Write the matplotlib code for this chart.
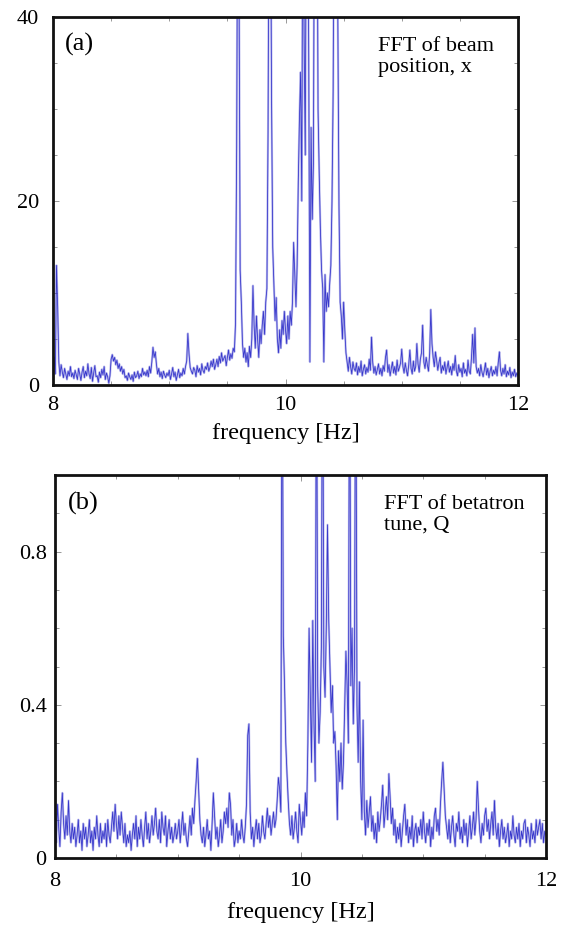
import numpy as np
import matplotlib
matplotlib.use("Agg")
import matplotlib.pyplot as plt
from matplotlib.ticker import MultipleLocator

# frequency grid: 8.00 .. 12.00 Hz, 0.01 Hz step
freq = [round(8.0 + 0.01 * i, 2) for i in range(401)]

# (a) FFT of beam position x (>40 are clipped)
fft_x = [
    1.5, 3.0, 1.2, 13.0, 8.5, 2.5, 1.0, 2.2, 1.4, 0.8, 1.8, 1.2, 0.6, 1.5, 1.0, 2.0, 0.9, 1.3, 0.7, 1.6,
    1.1, 0.6, 1.8, 1.2, 0.5, 1.4, 2.0, 0.8, 1.5, 1.0, 2.3, 1.2, 0.7, 1.9, 0.4, 1.3, 2.1, 0.9, 1.0, 0.3,
    1.4, 0.8, 1.7, 1.1, 2.0, 0.6, 1.3, 0.9, 0.2, 1.0, 2.8, 3.3, 2.6, 3.0, 2.2, 2.7, 1.8, 2.3, 1.5, 2.0,
    1.2, 1.7, 0.8, 1.0, 0.5, 1.3, 0.9, 0.6, 1.1, 0.4, 1.4, 0.8, 1.0, 1.5, 0.7, 1.2, 0.9, 1.8, 1.1, 1.4,
    1.0, 1.6, 0.9, 2.0, 1.3, 2.5, 4.1, 3.0, 3.6, 2.2, 1.2, 1.8, 0.9, 1.4, 0.7, 1.5, 1.1, 0.8, 1.3, 1.0,
    1.6, 0.6, 1.2, 1.9, 0.9, 1.4, 0.5, 1.1, 1.7, 0.8, 1.3, 1.0, 1.8, 1.2, 2.0, 2.6, 5.6, 3.4, 1.9, 1.5,
    1.2, 1.9, 1.6, 0.9, 2.1, 1.4, 1.8, 1.1, 2.3, 1.6, 1.3, 2.0, 1.7, 2.4, 1.5, 1.9, 2.6, 2.0, 2.8, 1.7,
    2.2, 2.8, 2.0, 3.1, 2.4, 3.5, 2.6, 2.9, 3.2, 2.1, 3.0, 3.8, 2.7, 3.4, 2.9, 4.0, 3.6, 6.7, 26.0, 60.0,
    45.0, 12.5, 9.0, 4.5, 3.0, 4.0, 2.5, 3.5, 2.0, 4.2, 3.0, 5.0, 10.8, 6.5, 4.0, 7.5, 5.0, 3.0, 6.0, 4.5,
    6.5, 8.0, 5.5, 9.0, 10.5, 27.5, 60.0, 60.0, 31.0, 15.0, 11.0, 7.0, 9.5, 5.0, 3.5, 6.0, 4.0, 7.0, 5.5, 8.0,
    6.0, 4.5, 7.5, 5.0, 8.0, 6.5, 9.0, 15.5, 12.0, 8.5, 13.0, 22.0, 29.0, 34.0, 20.0, 60.0, 38.0, 25.0, 60.0, 60.0,
    35.0, 2.5, 28.0, 18.0, 24.0, 60.0, 60.0, 60.0, 30.0, 23.0, 17.0, 12.5, 10.5, 2.5, 12.0, 8.0, 10.0, 8.5, 11.0, 13.0,
    20.0, 32.0, 60.0, 60.0, 60.0, 40.0, 19.5, 9.0, 7.5, 5.0, 9.0, 6.0, 3.5, 2.5, 1.5, 3.0, 2.0, 1.2, 2.5, 1.8,
    1.5, 2.4, 1.1, 2.0, 1.4, 2.6, 1.0, 1.7, 2.2, 1.2, 1.9, 1.4, 2.8, 1.6, 5.2, 2.5, 1.3, 2.0, 1.1, 1.7,
    2.3, 1.2, 1.8, 1.0, 2.1, 1.5, 3.0, 3.8, 1.4, 2.2, 1.0, 1.8, 2.5, 1.3, 2.0, 1.1, 2.7, 1.5, 1.9, 2.4,
    3.9, 2.0, 1.3, 2.4, 1.6, 1.0, 2.2, 3.8, 1.8, 1.2, 2.6, 1.5, 2.0, 4.5, 2.3, 1.4, 2.8, 3.5, 6.5, 2.5,
    1.8, 3.0, 2.2, 1.5, 3.4, 8.2, 4.5, 3.0, 2.0, 3.6, 2.7, 1.6, 2.4, 3.0, 1.3, 2.1, 1.6, 2.5, 1.2, 1.9,
    2.6, 1.4, 2.0, 1.1, 2.3, 1.6, 3.2, 1.5, 1.0, 2.2, 1.4, 1.8, 0.9, 2.4, 1.3, 1.7, 1.0, 2.7, 1.5, 1.2,
    3.0, 5.5, 2.4, 6.2, 2.0, 1.3, 1.8, 1.0, 2.2, 1.4, 0.9, 1.6, 2.4, 1.1, 1.8, 0.8, 1.5, 2.0, 1.0, 1.6,
    1.2, 2.0, 1.0, 2.4, 3.6, 1.6, 1.0, 1.8, 1.2, 2.2, 0.9, 1.5, 1.1, 1.9, 0.8, 1.4, 1.0, 1.7, 0.9, 1.3,
    1.0,
]

# (b) FFT of betatron tune Q (values >1 are clipped)
fft_q = [
    0.10, 0.04, 0.14, 0.08, 0.03, 0.12, 0.17, 0.09, 0.05, 0.11, 0.06, 0.15, 0.07, 0.04, 0.09, 0.05, 0.08, 0.03, 0.06, 0.10,
    0.04, 0.07, 0.02, 0.09, 0.05, 0.08, 0.03, 0.06, 0.10, 0.04, 0.07, 0.02, 0.08, 0.05, 0.11, 0.06, 0.03, 0.09, 0.04, 0.07,
    0.05, 0.09, 0.03, 0.10, 0.06, 0.04, 0.08, 0.12, 0.07, 0.14, 0.09, 0.05, 0.11, 0.06, 0.12, 0.08, 0.04, 0.09, 0.03, 0.06,
    0.04, 0.07, 0.02, 0.06, 0.09, 0.05, 0.11, 0.03, 0.08, 0.05, 0.10, 0.06, 0.03, 0.08, 0.12, 0.05, 0.09, 0.04, 0.07, 0.11,
    0.06, 0.09, 0.13, 0.07, 0.05, 0.10, 0.04, 0.12, 0.08, 0.06, 0.11, 0.03, 0.07, 0.10, 0.05, 0.08, 0.04, 0.06, 0.09, 0.05,
    0.07, 0.10, 0.04, 0.08, 0.12, 0.06, 0.09, 0.05, 0.03, 0.07, 0.11, 0.06, 0.13, 0.09, 0.15, 0.20, 0.26, 0.18, 0.10, 0.06,
    0.04, 0.08, 0.03, 0.06, 0.10, 0.05, 0.07, 0.02, 0.09, 0.17, 0.11, 0.05, 0.08, 0.03, 0.06, 0.10, 0.04, 0.07, 0.12, 0.09,
    0.13, 0.08, 0.17, 0.14, 0.06, 0.10, 0.03, 0.05, 0.09, 0.04, 0.07, 0.05, 0.10, 0.06, 0.04, 0.08, 0.14, 0.32, 0.35, 0.12,
    0.05, 0.08, 0.03, 0.07, 0.10, 0.05, 0.09, 0.04, 0.06, 0.11, 0.07, 0.05, 0.09, 0.13, 0.08, 0.11, 0.06, 0.09, 0.12, 0.08,
    0.10, 0.15, 0.21, 0.18, 0.12, 1.50, 0.58, 0.45, 0.30, 0.22, 0.15, 0.09, 0.06, 0.11, 0.05, 0.08, 0.12, 0.07, 0.04, 0.14,
    0.10, 0.06, 0.12, 0.08, 0.17, 0.11, 0.30, 0.60, 0.42, 0.25, 0.62, 0.35, 0.20, 1.50, 0.45, 0.30, 0.38, 0.55, 1.50, 0.50,
    0.42, 0.60, 0.87, 0.62, 0.50, 0.38, 0.45, 0.30, 0.33, 0.24, 0.10, 0.28, 0.20, 0.30, 0.18, 0.25, 0.40, 0.54, 0.45, 0.30,
    1.50, 0.45, 0.60, 0.35, 0.50, 1.50, 0.40, 0.25, 0.46, 0.20, 0.10, 0.36, 0.12, 0.06, 0.15, 0.08, 0.12, 0.16, 0.07, 0.11,
    0.05, 0.09, 0.04, 0.12, 0.07, 0.10, 0.14, 0.19, 0.08, 0.12, 0.16, 0.10, 0.22, 0.16, 0.09, 0.13, 0.06, 0.10, 0.04, 0.08,
    0.05, 0.09, 0.03, 0.07, 0.11, 0.14, 0.06, 0.10, 0.04, 0.08, 0.05, 0.11, 0.03, 0.07, 0.09, 0.04, 0.08, 0.06, 0.10, 0.05,
    0.12, 0.07, 0.04, 0.09, 0.06, 0.10, 0.03, 0.08, 0.05, 0.11, 0.13, 0.07, 0.10, 0.06, 0.14, 0.20, 0.25, 0.18, 0.11, 0.08,
    0.05, 0.10, 0.04, 0.08, 0.11, 0.06, 0.03, 0.09, 0.07, 0.12, 0.05, 0.08, 0.04, 0.10, 0.06, 0.09, 0.03, 0.07, 0.11, 0.05,
    0.08, 0.12, 0.06, 0.10, 0.20, 0.13, 0.07, 0.04, 0.09, 0.06, 0.11, 0.13, 0.07, 0.10, 0.05, 0.09, 0.12, 0.06, 0.15, 0.08,
    0.05, 0.09, 0.03, 0.07, 0.10, 0.05, 0.08, 0.04, 0.06, 0.09, 0.03, 0.07, 0.05, 0.11, 0.06, 0.04, 0.08, 0.05, 0.09, 0.03,
    0.07, 0.05, 0.09, 0.10, 0.04, 0.08, 0.06, 0.03, 0.09, 0.05, 0.07, 0.04, 0.10, 0.06, 0.08, 0.10, 0.05, 0.09, 0.04, 0.07,
    0.06,
]

xticks = [8, 10, 12]
yticks_a = [0, 20, 40]
yticks_b = [0, 0.4, 0.8]
ytick_labels_b = ["0", "0.4", "0.8"]

plt.rcParams['font.family'] = ['Liberation Serif', 'DejaVu Serif']

fig = plt.figure(figsize=(5.66, 9.27), dpi=100)
ax1 = fig.add_axes([53/566, 1-385/927, 465/566, 368/927])
ax2 = fig.add_axes([55/566, 1-858/927, 491/566, 383/927])

LINE = '#2a2ac8'

def style(ax, ymax, ymin_step, yt, ytl, xpad, ypad, labelpad):
    ax.set_xlim(8, 12)
    ax.set_ylim(0, ymax)
    ax.set_xticks(xticks)
    ax.set_xticklabels([str(t) for t in xticks])
    ax.set_yticks(yt)
    ax.set_yticklabels(ytl)
    ax.xaxis.set_minor_locator(MultipleLocator(0.5))
    ax.yaxis.set_minor_locator(MultipleLocator(ymin_step))
    ax.tick_params(which='both', direction='in', top=True, right=True,
                   labelsize=16, color='#888888', width=0.6)
    ax.tick_params(which='major', length=4)
    ax.tick_params(axis='y', which='major', pad=ypad)
    ax.tick_params(axis='x', which='major', pad=xpad)
    ax.tick_params(which='minor', length=3)
    for s in ax.spines.values():
        s.set_linewidth(2.0)
        s.set_color('#111111')
    ax.set_xlabel('frequency [Hz]', fontsize=17.5, labelpad=labelpad)

ax1.plot(freq, fft_x, color=LINE, lw=1.6, alpha=0.3)
ax1.plot(freq, fft_x, color=LINE, lw=0.6, alpha=0.9)
style(ax1, 40, 5, yticks_a, [str(t) for t in yticks_a], 8, 10, 6)
ax1.text(0.026, 0.925, '(a)', transform=ax1.transAxes, fontsize=19, va='center', ha='left')
ax1.text(0.70, 0.945, 'FFT of beam\nposition, x', transform=ax1.transAxes, fontsize=16,
         va='top', ha='left', linespacing=1.15)

ax2.plot(freq, fft_q, color=LINE, lw=1.6, alpha=0.3)
ax2.plot(freq, fft_q, color=LINE, lw=0.6, alpha=0.9)
style(ax2, 1.0, 0.1, yticks_b, ytick_labels_b, 10, 6, 8)
ax2.text(0.026, 0.927, '(b)', transform=ax2.transAxes, fontsize=19, va='center', ha='left')
ax2.text(0.67, 0.948, 'FFT of betatron\ntune, Q', transform=ax2.transAxes, fontsize=16,
         va='top', ha='left', linespacing=1.15)

fig.savefig('out.png', dpi=100)
